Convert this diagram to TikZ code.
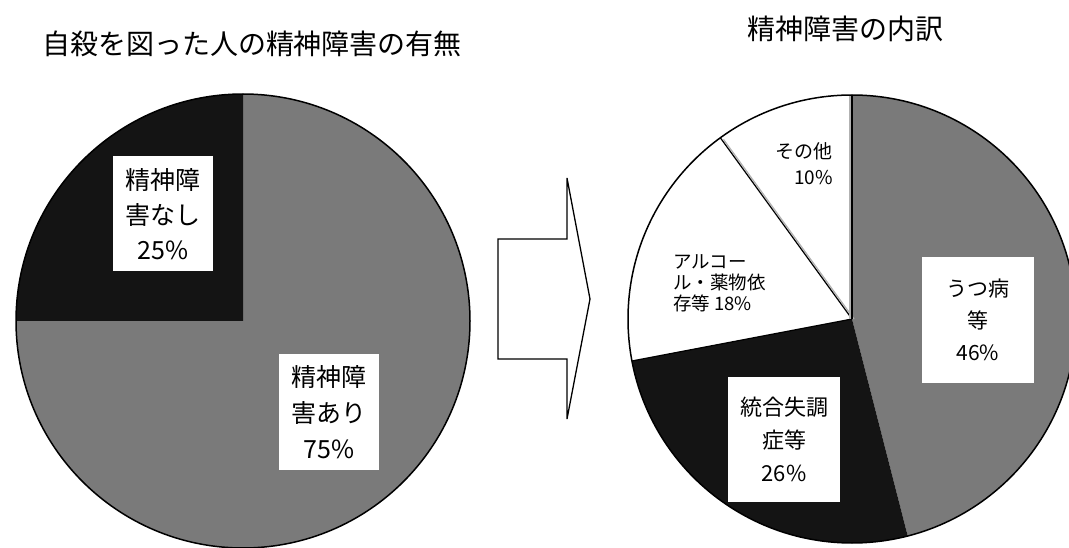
\documentclass[tikz,border=0pt]{standalone}
\usepackage{fontspec}
\setmainfont{Noto Sans CJK JP}
\definecolor{grau}{RGB}{122,122,122}
\definecolor{schwarz}{RGB}{20,20,20}
\tikzset{
	titel/.style={font=\fontsize{28}{32}\selectfont},
	kasten/.style={fill=white, align=center, inner sep=0pt},
	klein/.style={font=\fontsize{18.5}{21}\selectfont, inner sep=0pt}
}
\begin{document}
\begin{tikzpicture}[x=1pt,y=1pt]
		\useasboundingbox (0,0) rectangle (1069,547);
		\clip (0,0) rectangle (1069,547);
		
		\node[titel] at (252,503) (titel1) {自殺を図った人の精神障害の有無};
		\node[titel] at (845,518) (titel2) {精神障害の内訳};
		
		% linker Kreis
		\coordinate (links) at (243,226);
		\fill[grau] (links) -- ++(90:227) arc[start angle=90, end angle=-180, radius=227] -- cycle;
		\fill[schwarz] (links) -- ++(90:227) arc[start angle=90, end angle=180, radius=227] -- cycle;
		\draw[line width=1.5pt] (links) circle[radius=227];
		
		\node[kasten, minimum width=100pt, minimum height=115pt, font=\fontsize{25}{35}\selectfont] at (163,333) (ohne) {精神障\\害なし\\25\%};
		\node[kasten, minimum width=100pt, minimum height=115pt, font=\fontsize{25}{36}\selectfont] at (329,135) (mit) {精神障\\害あり\\75\%};
		
		% Pfeil
		\draw[line width=1.3pt, line join=miter] (498,308) -- (567,308) -- (567,369) -- (590,248) -- (567,128) -- (567,188) -- (498,188) -- cycle;
		
		% rechter Kreis
		\coordinate (rechts) at (852,228);
		\fill[grau] (rechts) -- ++(90:224) arc[start angle=90, end angle=-75.6, radius=224] -- cycle;
		\fill[schwarz] (rechts) -- ++(-75.6:224) arc[start angle=-75.6, end angle=-169.2, radius=224] -- cycle;
		\draw[line width=1.2pt] (rechts) -- ++(-169.2:224);
		\draw[gray!60, line width=1.2pt] ([xshift=2pt]rechts) -- ++(126:222);
		\draw[line width=1.2pt] (rechts) -- ++(126:224);
		\draw[gray!60, line width=1.2pt] ([xshift=-2pt]rechts) -- ++(90:223);
		\draw[line width=1.2pt] (rechts) -- ++(90:224);
		\draw[line width=1.5pt] (rechts) circle[radius=224];
		
		\node[kasten, minimum width=112pt, minimum height=125pt, font=\fontsize{21}{32}\selectfont] at (978,227) (depr) {うつ病\\等\\46\%};
		\node[kasten, minimum width=112pt, minimum height=125pt, font=\fontsize{22}{33}\selectfont] at (784,108) (schizo) {統合失調\\症等\\26\%};
		\node[klein, align=left, anchor=west] at (673,264) (alk) {アルコー\\ル・薬物依\\存等 18\%};
		\node[klein, align=right, anchor=east, font=\fontsize{19}{26}\selectfont] at (833,383) (sonst) {その他\\10\%};
\end{tikzpicture}
\end{document}
